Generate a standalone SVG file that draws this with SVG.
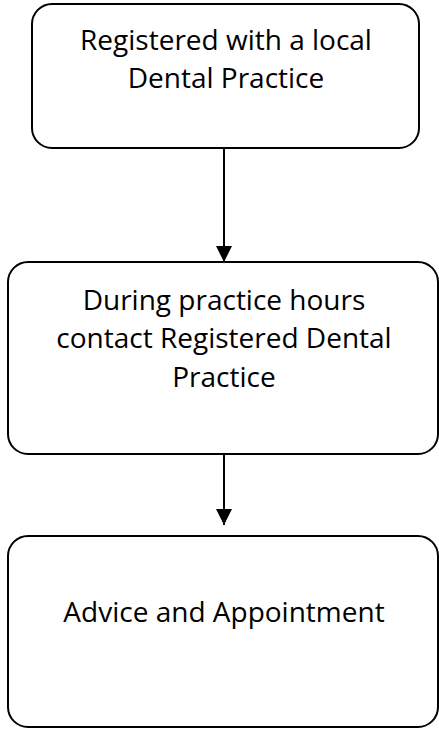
<svg xmlns="http://www.w3.org/2000/svg" width="439" height="731" viewBox="0 0 439 731">
<style>
.box{fill:#fff;stroke:#000;stroke-width:2}
.lbl{font-family:"Open Sans","Liberation Sans",sans-serif;font-size:28px;fill:#000;text-anchor:middle}
.conn{stroke:#000;stroke-width:2;fill:none}
</style>
<defs>
<marker id="ah" markerUnits="userSpaceOnUse" markerWidth="16" markerHeight="16" viewBox="0 0 16 16" refX="16" refY="8" orient="auto">
<path d="M0,0 L16,8 L0,16 Z" fill="#000"/>
</marker>
</defs>
<g id="connectors">
<line class="conn" x1="224" y1="148" x2="224" y2="262" marker-end="url(#ah)"/>
<line class="conn" x1="224" y1="454" x2="224" y2="525" marker-end="url(#ah)"/>
</g>
<g id="node1">
<rect class="box" x="32" y="4" width="387" height="144" rx="20" ry="20"/>
<text class="lbl" x="226" y="50">Registered with a local</text>
<text class="lbl" x="226" y="88">Dental Practice</text>
</g>
<g id="node2">
<rect class="box" x="8" y="262" width="430" height="192" rx="20" ry="20"/>
<text class="lbl" x="224" y="310">During practice hours</text>
<text class="lbl" x="224" y="348">contact Registered Dental</text>
<text class="lbl" x="224" y="387">Practice</text>
</g>
<g id="node3">
<rect class="box" x="8" y="536" width="430" height="191" rx="20" ry="20"/>
<text class="lbl" x="224" y="622">Advice and Appointment</text>
</g>
</svg>
